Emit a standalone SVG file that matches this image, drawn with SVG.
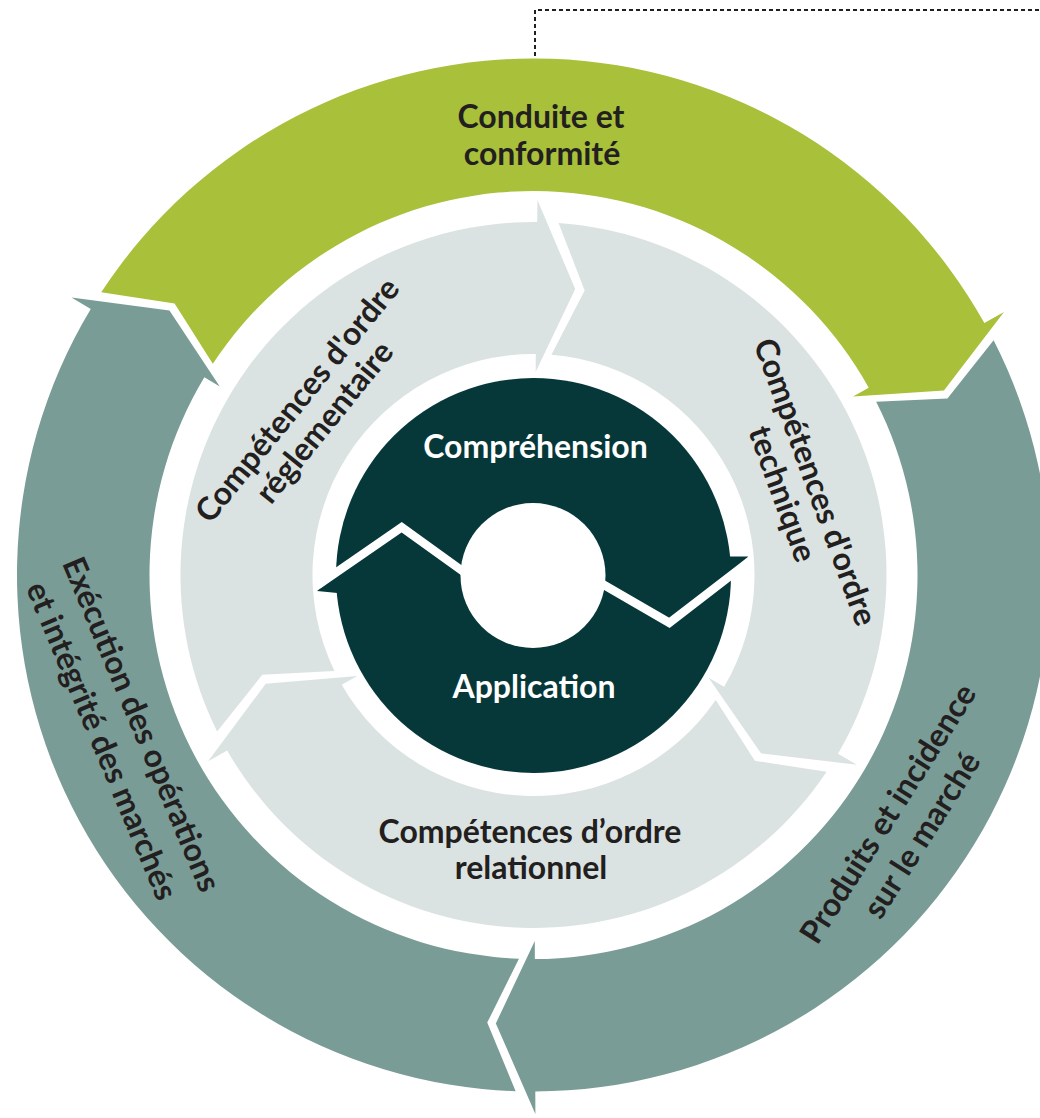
<svg xmlns="http://www.w3.org/2000/svg" width="1040" height="1118" viewBox="0 0 1040 1118">
<style>
.lbl{font-family:Lato,"Open Sans","Liberation Sans",sans-serif;font-weight:700;font-size:32px;fill:#231F20;text-anchor:middle}
.wlbl{font-family:Lato,"Open Sans","Liberation Sans",sans-serif;font-weight:700;font-size:32px;fill:#FFFFFF;text-anchor:middle}
.green{fill:#A8C03A}
.teal{fill:#7A9C96}
.gray{fill:#DBE3E2}
.dark{fill:#06383A}
.gap{fill:none;stroke:#FFFFFF;stroke-width:8.5;stroke-linejoin:miter}
</style>
<rect width="1040" height="1118" fill="#FFFFFF"/>
<g id="connectors">
<polyline points="535,63 535,10 1040,10" fill="none" stroke="#231F20" stroke-width="2" stroke-dasharray="4 3"/>
</g>
<g id="node-conduite">
<path class="green" d="M101.21 292.33 A516.5 516.5 0 0 1 984.36 323.02 L1004.0 312.04 L943.95 390.53 L852.99 396.44 L868.70 387.66 A384 384 0 0 0 212.81 363.78 L174.58 303.56 Z"/>
<text class="lbl" x="541" y="128">Conduite et</text>
<text class="lbl" x="542" y="165">conformité</text>
</g>
<g id="node-produits">
<path class="teal" d="M993.62 340.35 A516.5 516.5 0 0 1 535.30 1091.50 L535.38 1114.0 L495.84 1023.42 L534.78 941.0 L534.84 959.0 A384 384 0 0 0 876.17 401.68 L947.42 398.45 Z"/>
<text class="lbl" transform="translate(897.3,819.5) rotate(-57.7)"><tspan x="0" y="0">Produits et incidence</tspan><tspan x="0" y="40">sur le marché</tspan></text>
</g>
<g id="node-execution">
<path class="teal" d="M515.65 1091.19 A516.5 516.5 0 0 1 90.77 308.98 L71.49 297.39 L169.44 310.5 L219.78 386.50 L204.35 377.22 A384 384 0 0 0 518.96 958.72 L487.24 1022.62 Z"/>
<text class="lbl" transform="translate(131.3,728.5) rotate(67.2)"><tspan x="0" y="0">Exécution des opérations</tspan><tspan x="0" y="43">et intégrité des marchés</tspan></text>
</g>
<g id="node-reglementaire">
<path class="gray" d="M217.12 731.57 A353 353 0 0 1 537.20 222.02 L537.43 200.02 L575.22 289.03 L535.63 372.01 L535.81 354.01 A221 221 0 0 0 334.45 671.01 L262.27 674.79 Z"/>
<text class="lbl" transform="translate(305.7,407) rotate(-51)"><tspan x="0" y="0">Compétences d'ordre</tspan><tspan x="0" y="35">réglementaire</tspan></text>
</g>
<g id="node-technique">
<path class="gray" d="M558.55 222.89 A353 353 0 0 1 837.97 753.63 L856.95 764.77 L760.93 753.32 L708.59 677.73 L724.12 686.83 A221 221 0 0 0 551.42 354.73 L584.68 290.57 Z"/>
<text class="lbl" transform="translate(805.1,485.7) rotate(70)"><tspan x="0" y="0">Compétences d'ordre</tspan><tspan x="0" y="35">technique</tspan></text>
</g>
<g id="node-relationnel">
<path class="gray" d="M826.60 771.73 A353 353 0 0 1 227.18 750.43 L208.09 761.37 L265.73 683.73 L357.34 675.89 L341.72 684.83 A221 221 0 0 0 715.74 700.02 L754.89 760.77 Z"/>
<text class="lbl" x="530" y="843">Compétences d’ordre</text>
<text class="lbl" x="531" y="879">relationnel</text>
</g>
<g id="node-cycle">
<circle class="dark" cx="533.5" cy="575.5" r="197.5"/>
<polygon class="dark" points="748.3,556.6 712,556.6 712,590"/>
<polygon class="dark" points="317,590.9 355,561 355,603 337.5,592.9"/>
<polyline class="gap" points="318,585 401.7,527.2 480,583.6"/>
<polyline class="gap" points="595,579.7 669.3,622.8 749,561.5"/>
<circle cx="533" cy="575.5" r="72.5" fill="#FFFFFF"/>
</g>
<g id="node-comprehension">
<text class="wlbl" x="535.5" y="458">Compréhension</text>
</g>
<g id="node-application">
<text class="wlbl" x="534" y="698">Application</text>
</g>
</svg>
